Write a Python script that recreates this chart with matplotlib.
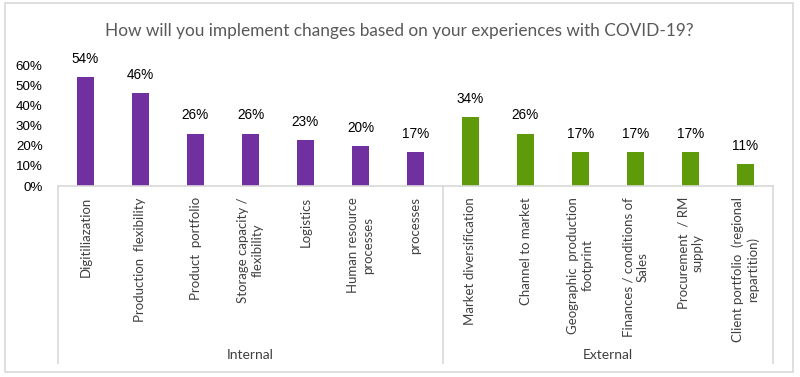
import matplotlib
matplotlib.use("Agg")
from matplotlib import pyplot as plt
from matplotlib.lines import Line2D
from matplotlib.patches import Rectangle

internal_labels = ["Digitiliazation", "Production  flexibility", "Product  portfolio",
                   "Storage capacity /\nflexibility", "Logistics",
                   "Human resource\nprocesses", "processes"]
internal_values = [54, 46, 26, 26, 23, 20, 17]

external_labels = ["Market diversification", "Channel to market",
                   "Geographic  production\nfootprint", "Finances / conditions of\nSales",
                   "Procurement  / RM\nsupply", "Client portfolio  (regional\nrepartition)"]
external_values = [34, 26, 17, 17, 17, 11]

groups = ["Internal", "External"]
yticks = [0, 10, 20, 30, 40, 50, 60]

purple = "#7030A0"
green = "#5F9A0A"
grey_line = "#D9D9D9"
text_col = "#404040"
title_font = "Lato"
label_font = "Lato"
num_font = "Liberation Sans"

W, H = 800, 377
fig = plt.figure(figsize=(W / 100, H / 100), dpi=100)

# chart border
fig.add_artist(Rectangle((5 / W, 5 / H), 788 / W, 369 / H, transform=fig.transFigure,
                         fill=False, edgecolor=grey_line, linewidth=1.2))

x_left, x_right, y_base, y_top = 58, 773, 186, 65
ax = fig.add_axes([x_left / W, 1 - y_base / H, (x_right - x_left) / W, (y_base - y_top) / H])

labels = internal_labels + external_labels
values = internal_values + external_values
colors = [purple] * len(internal_values) + [green] * len(external_values)
xs = list(range(len(values)))

ax.bar(xs, values, width=0.31, color=colors)
for x, v in zip(xs, values):
    ax.text(x, v + 5.5, f"{v}%", ha="center", va="bottom", fontsize=9.8,
            family=num_font, color="black", clip_on=False)

ax.set_xlim(-0.5, len(values) - 0.5)
ax.set_ylim(0, 60)
ax.set_yticks(yticks)
ax.set_yticklabels([f"{t}%" for t in yticks], family=num_font, fontsize=9.6, color="black")
ax.tick_params(axis="y", length=0, pad=11)
ax.tick_params(axis="x", length=0, pad=8)
ax.set_xticks(xs)
ax.set_xticklabels(labels, rotation=90, ha="center", va="top", family=label_font,
                   fontsize=9.5, color=text_col, multialignment="center", linespacing=1.25)
for s in ["top", "right", "left"]:
    ax.spines[s].set_visible(False)
ax.spines["bottom"].set_color(grey_line)
ax.spines["bottom"].set_linewidth(1.2)

# multi-level category separators
n_int = len(internal_values)
sep_x = [x_left, x_left + (x_right - x_left) * n_int / len(values), x_right]
for sx in sep_x:
    fig.add_artist(Line2D([sx / W, sx / W], [1 - y_base / H, 1 - 363 / H],
                          transform=fig.transFigure, color=grey_line, linewidth=1.2))
for i, g in enumerate(groups):
    cx = (sep_x[i] + sep_x[i + 1]) / 2
    fig.text(cx / W, 1 - 355 / H, g, ha="center", va="center", family=label_font,
             fontsize=10, color=text_col)

fig.text(399 / W, 1 - 31 / H,
         "How will you implement changes based on your experiences with COVID-19?",
         ha="center", va="center", family=title_font, fontsize=12.4, color="#595959")

fig.savefig("out.png", dpi=100)
